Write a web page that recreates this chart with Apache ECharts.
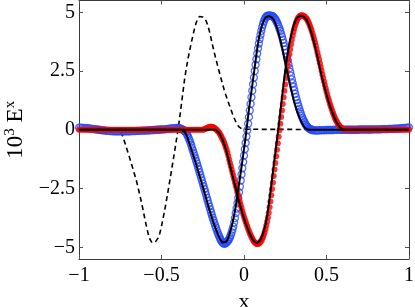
<!DOCTYPE html>
<html><head><meta charset="utf-8">
<script src="https://cdn.jsdelivr.net/npm/echarts@6/dist/echarts.min.js"></script>
<style>html,body{margin:0;padding:0;background:#fff}#c{width:415px;height:307px}</style>
</head><body><div id="c"></div>
<script>
// tick labels
const xTicks = [-1, -0.5, 0, 0.5, 1];
const yTicks = [-5, -2.5, 0, 2.5, 5];

// blue open circles (numerical solution 1)
const blueLeftStart = -1.00, blueLeftStep = 0.01;
const blueLeft = [
 0.09,0.09,0.08,0.08,0.07,0.07,0.06,0.05,0.04,0.03,
 0.02,0.01,0,-0.01,-0.02,-0.03,-0.04,-0.05,-0.05,-0.06,
 -0.06,-0.07,-0.07,-0.07,-0.07,-0.07,-0.07,-0.07,-0.07,-0.07,
 -0.07,-0.07,-0.06,-0.06,-0.06,-0.05,-0.05,-0.05,-0.04,-0.04,
 -0.04,-0.03,-0.03,-0.02,-0.02,-0.01,-0.01,0,0,0.01,
 0.01,0.02,0.02,0.03,0.04,0.05,0.06,0.06,0.07,0.08];
const blueMidStart = -0.40, blueMidStep = 0.005;
const blueMid = [
 0.08,0.07,0.06,0.045,0.03,0.015,0,-0.02,-0.05,-0.09,
 -0.13,-0.2,-0.27,-0.36,-0.45,-0.55,-0.66,-0.77,-0.88,-0.99,
 -1.1,-1.21,-1.33,-1.44,-1.56,-1.68,-1.8,-1.92,-2.04,-2.16,
 -2.28,-2.4,-2.52,-2.64,-2.77,-2.9,-3.02,-3.15,-3.27,-3.39,
 -3.51,-3.63,-3.74,-3.85,-3.96,-4.07,-4.17,-4.27,-4.37,-4.46,
 -4.55,-4.63,-4.7,-4.76,-4.8,-4.83,-4.84,-4.84,-4.82,-4.79,
 -4.76,-4.71,-4.65,-4.57,-4.48,-4.37,-4.25,-4.12,-3.95,-3.76,
 -3.55,-3.35,-3.13,-2.9,-2.66,-2.42,-2.16,-1.9,-1.64,-1.37,
 -1.1,-0.83,-0.56,-0.29,-0.02,0.26,0.54,0.82,1.1,1.38,
 1.66,1.94,2.22,2.5,2.76,3.0,3.24,3.46,3.67,3.86,
 4.04,4.21,4.36,4.49,4.6,4.69,4.76,4.81,4.84,4.86,
 4.86,4.86,4.86,4.85,4.84,4.82,4.79,4.75,4.7,4.64,
 4.57,4.49,4.4,4.3,4.2,4.08,3.96,3.83,3.7,3.56,
 3.41,3.26,3.1,2.94,2.78,2.62,2.46,2.3,2.14,1.98,
 1.83,1.68,1.53,1.39,1.26,1.13,1.01,0.89,0.78,0.68,
 0.58,0.49,0.41,0.34,0.27,0.21,0.16,0.12,0.08,0.05,
 0.03,0.01,0,-0.01,-0.02];
const blueRightStart = 0.43, blueRightStep = 0.01;
const blueRight = [
 -0.03,-0.03,-0.03,-0.02,-0.02,-0.02,-0.02,-0.01,-0.01,-0.01,
 -0.01,-0.01,0,0,0,0,0,0,0,0,
 0,0,0,0,0,0,0,0.01,0.01,0.01,
 0.01,0.01,0.01,0.01,0.01,0.02,0.02,0.02,0.02,0.02,
 0.02,0.03,0.03,0.03,0.03,0.04,0.04,0.04,0.05,0.05,
 0.05,0.06,0.06,0.07,0.08,0.08,0.09,0.1];

// red dots (numerical solution 2)
const redLeftStart = -1.00, redLeftStep = 0.01;
const redLeft = [
 0,0,0,0,0,0,0,0,0,0,
 0,0,0,0,0,0,0,0,0,0,
 0,0,0,0,0,0,0,0,0,0,
 0,0,0,0,0,0,0,0,0,0,
 0,0,0,0,0,0,0,0,0,0,
 0,0,0,0,0,0,0,0,0,0,
 0,0,0,0,0,0,0,0,0,0,
 0,0,0,0,0];
const redMidStart = -0.25, redMidStep = 0.005;
const redMid = [
 0,0.01,0.02,0.03,0.05,0.07,0.09,0.105,0.12,0.125,
 0.13,0.13,0.12,0.1,0.08,0.05,0.02,-0.01,-0.05,-0.09,
 -0.13,-0.19,-0.25,-0.32,-0.4,-0.47,-0.55,-0.65,-0.75,-0.86,
 -0.98,-1.12,-1.27,-1.41,-1.55,-1.69,-1.83,-1.96,-2.1,-2.24,
 -2.38,-2.52,-2.66,-2.8,-2.93,-3.07,-3.2,-3.33,-3.46,-3.58,
 -3.7,-3.81,-3.92,-4.02,-4.12,-4.22,-4.31,-4.4,-4.48,-4.56,
 -4.63,-4.69,-4.75,-4.79,-4.83,-4.85,-4.86,-4.86,-4.84,-4.81,
 -4.77,-4.72,-4.65,-4.57,-4.47,-4.36,-4.23,-4.08,-3.92,-3.73,
 -3.53,-3.3,-3.05,-2.79,-2.52,-2.25,-1.97,-1.69,-1.41,-1.13,
 -0.85,-0.57,-0.3,-0.02,0.26,0.54,0.82,1.1,1.38,1.66,
 1.93,2.2,2.47,2.72,2.97,3.21,3.43,3.64,3.83,4.01,
 4.17,4.31,4.44,4.55,4.64,4.72,4.78,4.82,4.85,4.86,
 4.87,4.86,4.85,4.83,4.8,4.76,4.72,4.66,4.59,4.51,
 4.42,4.32,4.22,4.1,3.98,3.85,3.72,3.58,3.44,3.29,
 3.14,2.99,2.83,2.67,2.51,2.35,2.2,2.05,1.9,1.76,
 1.62,1.49,1.36,1.24,1.12,1.01,0.9,0.8,0.7,0.61,
 0.52,0.44,0.37,0.31,0.25,0.2,0.15,0.11,0.08,0.05,
 0.03,0.02,0.01,0,0];
const redRightStart = 0.63, redRightStep = 0.01;
const redRight = [
 0,0,0,0,0,0,0,0,0,0,
 0,0,0,0,0,0,0,0,0,0,
 0,0,0,0,0,0,0,0,0,0,
 0,0,0,0,0,0,0,0];

// black solid lines (exact solutions)
const exact1Start = -0.38, exactStep = 0.01;
const exact1 = [
 0,-0.03,-0.09,-0.2,-0.38,-0.6,-0.82,-1.03,-1.25,-1.47,
 -1.71,-1.95,-2.18,-2.42,-2.66,-2.91,-3.16,-3.4,-3.63,-3.85,
 -4.05,-4.24,-4.42,-4.58,-4.71,-4.8,-4.82,-4.78,-4.68,-4.5,
 -4.25,-3.98,-3.65,-3.25,-2.8,-2.31,-1.82,-1.33,-0.82,-0.3,
 0.28,0.86,1.38,1.88,2.4,2.93,3.45,3.88,4.2,4.45,
 4.65,4.77,4.84,4.85,4.83,4.77,4.68,4.53,4.33,4.1,
 3.83,3.52,3.19,2.86,2.52,2.2,1.88,1.58,1.3,1.05,
 0.82,0.62,0.45,0.3,0.17,0.07,0.02,0];
const exact2Start = -0.17;
const exact2 = [
 0,-0.05,-0.14,-0.27,-0.43,-0.62,-0.84,-1.1,-1.38,-1.66,
 -1.95,-2.22,-2.5,-2.78,-3.05,-3.3,-3.55,-3.78,-3.98,-4.17,
 -4.35,-4.5,-4.64,-4.75,-4.81,-4.83,-4.78,-4.68,-4.52,-4.3,
 -4.03,-3.68,-3.2,-2.66,-2.1,-1.53,-0.97,-0.42,0.14,0.75,
 1.36,1.96,2.53,3.04,3.47,3.85,4.15,4.42,4.62,4.75,
 4.82,4.85,4.85,4.82,4.76,4.67,4.5,4.3,4.08,3.82,
 3.55,3.25,2.93,2.62,2.3,2.02,1.75,1.5,1.25,1.03,
 0.83,0.64,0.47,0.33,0.21,0.12,0.05,0.01,0];

// dashed line (initial pulse)
const initStart = -0.76;
const initPulse = [
 0,-0.04,-0.18,-0.38,-0.6,-0.82,-1.04,-1.27,-1.5,-1.74,
 -1.98,-2.23,-2.52,-2.82,-3.13,-3.48,-3.82,-4.15,-4.45,-4.66,
 -4.78,-4.82,-4.8,-4.72,-4.6,-4.4,-4.1,-3.75,-3.4,-3.0,
 -2.6,-2.18,-1.75,-1.33,-0.9,-0.45,0,0.5,1.05,1.6,
 2.15,2.6,3.0,3.35,3.68,4.0,4.3,4.55,4.73,4.82,
 4.83,4.8,4.74,4.64,4.45,4.2,3.9,3.58,3.28,3.0,
 2.73,2.47,2.2,1.94,1.7,1.48,1.27,1.07,0.88,0.68,
 0.5,0.35,0.22,0.12,0.06,0.02,0];
const domainEnds = [[-1, 0], [1, 0]];

function pairs(start, step, ys) {
  return ys.map((y, i) => [Math.round((start + i * step) * 10000) / 10000, y]);
}
const blueData = pairs(blueLeftStart, blueLeftStep, blueLeft)
  .concat(pairs(blueMidStart, blueMidStep, blueMid))
  .concat(pairs(blueRightStart, blueRightStep, blueRight));
const redData = pairs(redLeftStart, redLeftStep, redLeft)
  .concat(pairs(redMidStart, redMidStep, redMid))
  .concat(pairs(redRightStart, redRightStep, redRight));
const ex1Data = [domainEnds[0]].concat(pairs(exact1Start, exactStep, exact1), [domainEnds[1]]);
const ex2Data = [domainEnds[0]].concat(pairs(exact2Start, exactStep, exact2), [domainEnds[1]]);
const initData = [domainEnds[0]].concat(pairs(initStart, exactStep, initPulse), [domainEnds[1]]);

const FONT = 'Liberation Serif';
const fmt = v => String(v).replace('-', '\u2212');
const axisLineStyle = { color: '#3a3a3a', width: 1 };
const tickStyle = { color: '#555', width: 1 };

const chart = echarts.init(document.getElementById('c'), null, { renderer: 'canvas' });
chart.setOption({
  animation: false,
  backgroundColor: '#fff',
  grid: { left: 79, right: 6, top: 0.5, bottom: 48, containLabel: false, outerBoundsMode: 'none' },
  xAxis: [{
    type: 'value', min: -1, max: 1, position: 'bottom',
    axisLine: { show: true, onZero: false, lineStyle: axisLineStyle },
    axisTick: { show: true, inside: true, length: 4, customValues: xTicks, lineStyle: tickStyle },
    axisLabel: { customValues: xTicks, formatter: fmt, margin: 7, color: '#000', fontFamily: FONT, fontSize: 20 },
    splitLine: { show: false },
    name: 'x', nameLocation: 'middle', nameGap: 17,
    nameTextStyle: { color: '#000', fontFamily: FONT, fontSize: 22 }
  }, {
    type: 'value', min: -1, max: 1, position: 'top',
    axisLine: { show: true, onZero: false, lineStyle: axisLineStyle },
    axisTick: { show: true, inside: true, length: 4, customValues: xTicks, lineStyle: tickStyle },
    axisLabel: { show: false }, splitLine: { show: false }
  }],
  yAxis: [{
    type: 'value', min: -5.5, max: 5.5, position: 'left',
    axisLine: { show: true, onZero: false, lineStyle: axisLineStyle },
    axisTick: { show: true, inside: true, length: 4, customValues: yTicks, lineStyle: tickStyle },
    axisLabel: { customValues: yTicks, formatter: fmt, margin: 4, color: '#000', fontFamily: FONT, fontSize: 20 },
    splitLine: { show: false },
    name: '10{sup|3} E{sup|x}', nameLocation: 'middle', nameGap: 46, nameRotate: 90,
    nameTextStyle: {
      color: '#000', fontFamily: FONT, fontSize: 23,
      rich: { sup: { fontFamily: FONT, fontSize: 15, color: '#000', verticalAlign: 'top', lineHeight: 27 } }
    }
  }, {
    type: 'value', min: -5.5, max: 5.5, position: 'right',
    axisLine: { show: true, onZero: false, lineStyle: axisLineStyle },
    axisTick: { show: true, inside: true, length: 4, customValues: yTicks, lineStyle: tickStyle },
    axisLabel: { show: false }, splitLine: { show: false }
  }],
  series: [
    { type: 'line', data: initData, z: 1, showSymbol: false, silent: true,
      lineStyle: { color: '#000', width: 1.6, type: [5, 3.5] } },
    { type: 'scatter', data: blueData, z: 2, symbol: 'circle', symbolSize: 7, silent: true,
      itemStyle: { color: 'rgba(0,0,0,0)', borderColor: '#2448ff', borderWidth: 1.3 } },
    { type: 'scatter', data: redData, z: 3, symbol: 'circle', symbolSize: 6, silent: true,
      itemStyle: { color: '#ff0000', borderWidth: 0 } },
    { type: 'line', data: ex1Data, zlevel: 1, z: 4, showSymbol: false, silent: true,
      lineStyle: { color: '#000', width: 2 } },
    { type: 'line', data: ex2Data, zlevel: 1, z: 4, showSymbol: false, silent: true,
      lineStyle: { color: '#000', width: 2 } }
  ]
});
</script>
</body></html>
